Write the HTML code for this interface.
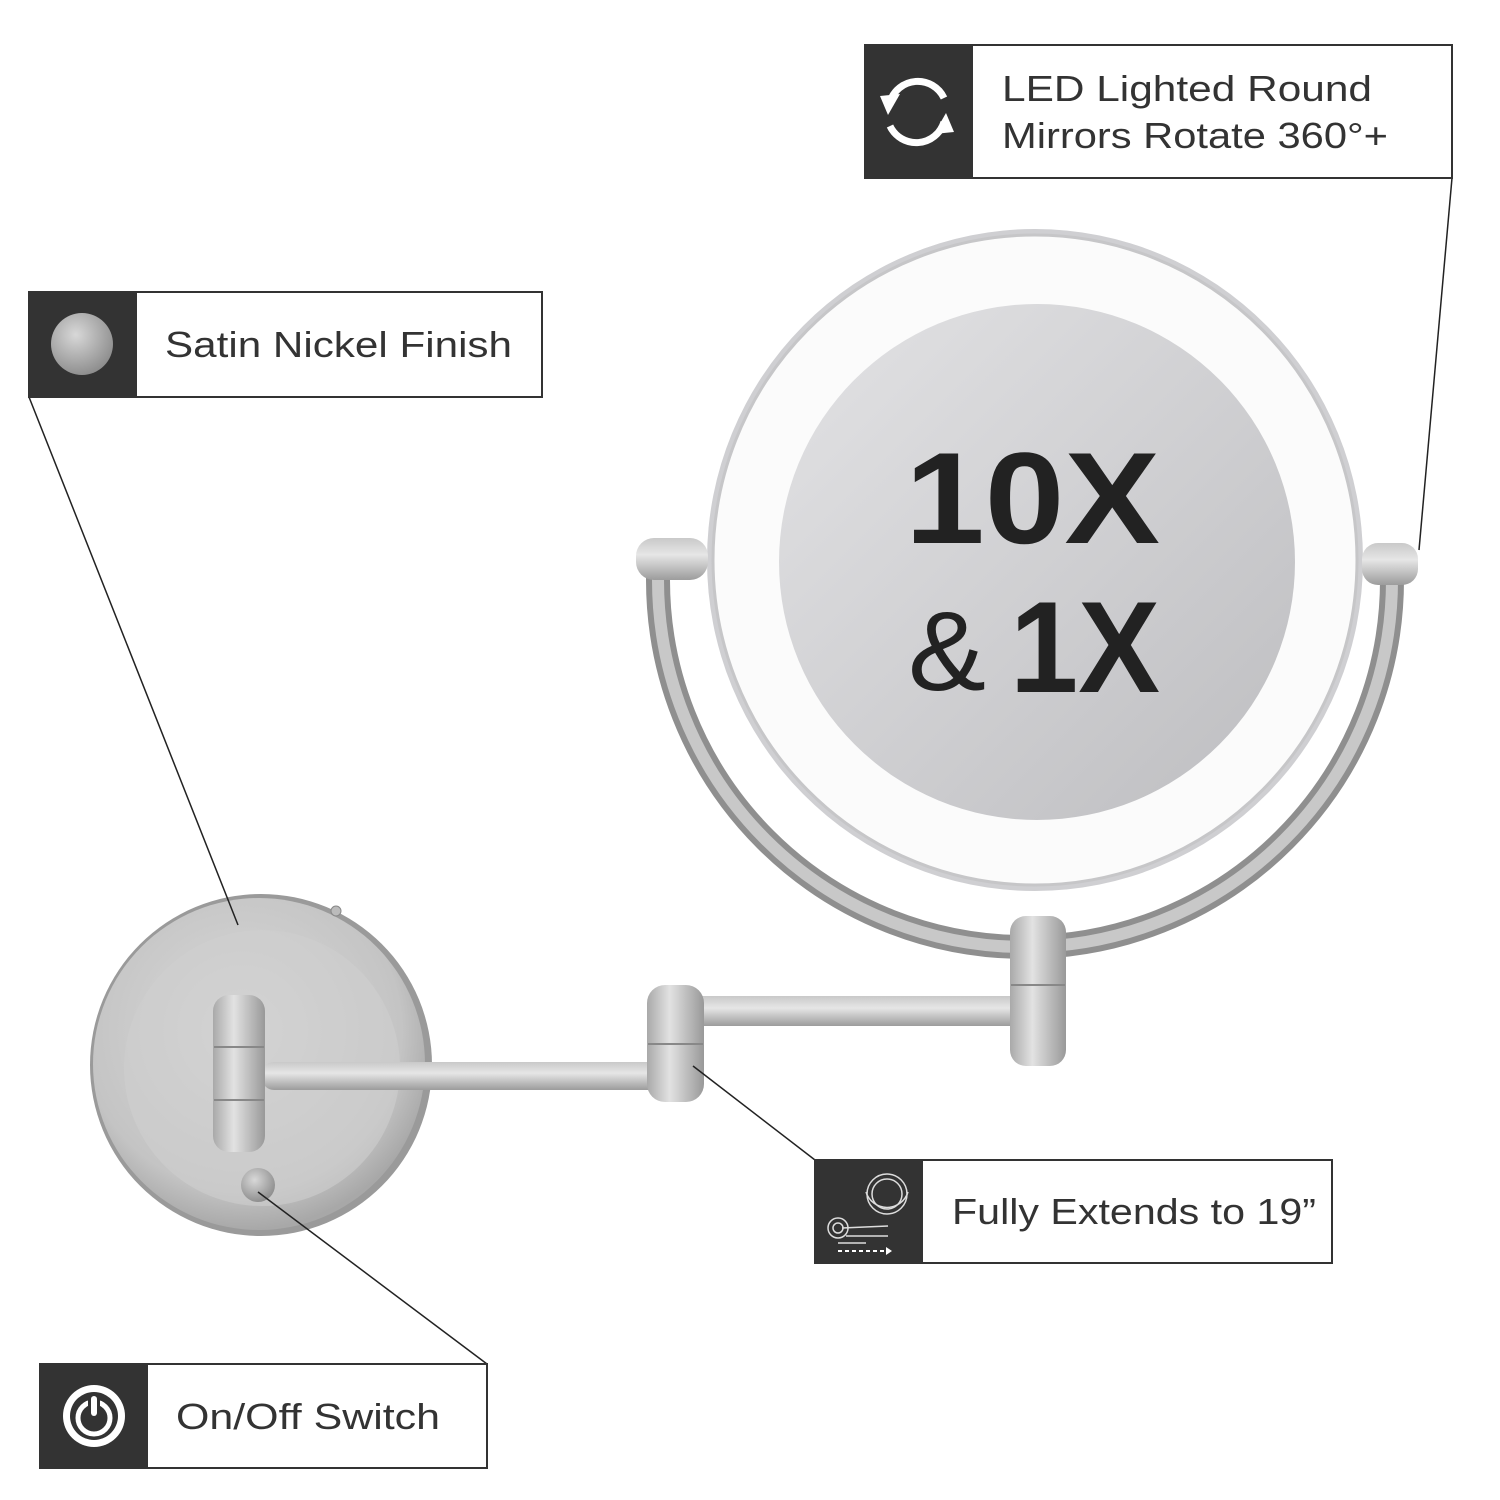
<!DOCTYPE html>
<html><head><meta charset="utf-8"><style>
html,body{margin:0;padding:0;background:#fff}
svg{display:block}
text{font-family:"Liberation Sans",sans-serif}
</style></head><body>
<svg width="1500" height="1500" viewBox="0 0 1500 1500" xmlns="http://www.w3.org/2000/svg">
<defs>
<linearGradient id="metal" x1="0" y1="0" x2="0" y2="1">
<stop offset="0" stop-color="#c9c9c9"/><stop offset="0.4" stop-color="#e6e6e6"/><stop offset="1" stop-color="#9c9c9c"/></linearGradient>
<linearGradient id="metalv" x1="0" y1="0" x2="1" y2="0">
<stop offset="0" stop-color="#a9a9a9"/><stop offset="0.4" stop-color="#e2e2e2"/><stop offset="1" stop-color="#999"/></linearGradient>
<radialGradient id="plate" cx="0.45" cy="0.4" r="0.6">
<stop offset="0" stop-color="#d9d9d9"/><stop offset="0.8" stop-color="#c4c4c4"/><stop offset="1" stop-color="#a8a8a8"/></radialGradient>
<linearGradient id="disc" x1="0" y1="0" x2="1" y2="1">
<stop offset="0" stop-color="#e3e3e5"/><stop offset="1" stop-color="#bdbdc0"/></linearGradient>
<radialGradient id="nick" cx="0.4" cy="0.35" r="0.7">
<stop offset="0" stop-color="#d8d8d8"/><stop offset="1" stop-color="#8a8a8a"/></radialGradient>
</defs>

<!-- yoke -->
<path d="M658 570 L658 580 A367 367 0 0 0 1392 580 L1392 570" fill="none" stroke="#8f8f8f" stroke-width="24"/>
<path d="M658 570 L658 580 A367 367 0 0 0 1392 580 L1392 570" fill="none" stroke="#c8c8c8" stroke-width="12"/>

<!-- mirror -->
<ellipse cx="1035" cy="560" rx="328" ry="331" fill="#cfcfd2"/>
<ellipse cx="1035" cy="560" rx="322" ry="325" fill="#fbfbfb" stroke="#c6c6c8" stroke-width="3"/>
<circle cx="1037" cy="562" r="258" fill="url(#disc)"/>
<text x="905" y="543" font-size="130" font-weight="bold" fill="#222" textLength="255" lengthAdjust="spacingAndGlyphs">10X</text>
<text x="908" y="690" font-size="112" fill="#222" textLength="78" lengthAdjust="spacingAndGlyphs">&amp;</text>
<text x="1010" y="692" font-size="130" font-weight="bold" fill="#222" textLength="150" lengthAdjust="spacingAndGlyphs">1X</text>

<!-- pivots -->
<rect x="636" y="538" width="72" height="42" rx="18" fill="url(#metal)"/>
<rect x="1362" y="543" width="56" height="42" rx="16" fill="url(#metal)"/>

<!-- wall plate -->
<circle cx="261" cy="1065" r="171" fill="#9a9a9a"/>
<circle cx="259" cy="1064" r="166" fill="url(#plate)"/>
<circle cx="262" cy="1068" r="138" fill="#cfcfcf" opacity="0.6"/>
<circle cx="336" cy="911" r="5" fill="#bbb" stroke="#888"/>

<!-- arms -->
<rect x="262" y="1062" width="400" height="28" rx="12" fill="url(#metal)"/>
<rect x="680" y="996" width="365" height="30" rx="12" fill="url(#metal)"/>
<rect x="647" y="985" width="57" height="117" rx="18" fill="url(#metalv)"/>
<line x1="648" y1="1044" x2="703" y2="1044" stroke="#888" stroke-width="2"/>
<rect x="1010" y="916" width="56" height="150" rx="16" fill="url(#metalv)"/>
<line x1="1011" y1="985" x2="1065" y2="985" stroke="#888" stroke-width="2"/>
<rect x="213" y="995" width="52" height="157" rx="16" fill="url(#metalv)"/>
<line x1="214" y1="1047" x2="264" y2="1047" stroke="#888" stroke-width="2"/>
<line x1="214" y1="1100" x2="264" y2="1100" stroke="#888" stroke-width="2"/>
<circle cx="258" cy="1185" r="17" fill="url(#nick)"/>

<!-- leader lines -->
<g stroke="#222" stroke-width="1.5" fill="none">
<line x1="29" y1="397" x2="238" y2="925"/>
<line x1="1452" y1="178" x2="1419" y2="550"/>
<line x1="815" y1="1160" x2="693" y2="1066"/>
<line x1="487" y1="1364" x2="258" y2="1192"/>
</g>

<!-- labels -->
<g stroke="#333" stroke-width="2" fill="#fff">
<rect x="865" y="45" width="587" height="133"/>
<rect x="29" y="292" width="513" height="105"/>
<rect x="815" y="1160" width="517" height="103"/>
<rect x="40" y="1364" width="447" height="104"/>
</g>
<g fill="#333">
<rect x="865" y="45" width="108" height="133"/>
<rect x="29" y="292" width="108" height="105"/>
<rect x="815" y="1160" width="108" height="103"/>
<rect x="40" y="1364" width="108" height="104"/>
</g>
<g font-size="36" fill="#333" lengthAdjust="spacingAndGlyphs">
<text x="1002" y="101" textLength="370" lengthAdjust="spacingAndGlyphs">LED Lighted Round</text>
<text x="1002" y="148" textLength="386" lengthAdjust="spacingAndGlyphs">Mirrors Rotate 360°+</text>
<text x="165" y="357" textLength="347" lengthAdjust="spacingAndGlyphs">Satin Nickel Finish</text>
<text x="952" y="1224" textLength="364" lengthAdjust="spacingAndGlyphs">Fully Extends to 19”</text>
<text x="176" y="1429" textLength="264" lengthAdjust="spacingAndGlyphs">On/Off Switch</text>
</g>

<!-- icons -->
<g fill="none" stroke="#fff" stroke-width="7">
<path d="M890 102 A29 29 0 0 1 944 98"/>
<path d="M944 122 A29 29 0 0 1 890 126"/>
</g>
<polygon points="880,96 900,94 888,115" fill="#fff"/>
<polygon points="954,132 934,134 946,113" fill="#fff"/>

<circle cx="82" cy="344" r="31" fill="url(#nick)"/>

<circle cx="94" cy="1416" r="31" fill="#fff"/>
<circle cx="94" cy="1416" r="24" fill="#333"/>
<circle cx="94" cy="1418" r="16" fill="none" stroke="#fff" stroke-width="5"/>
<rect x="88" y="1394" width="12" height="22" fill="#333"/>
<rect x="91" y="1396" width="6" height="20" rx="3" fill="#fff"/>

<g fill="none" stroke="#ddd" stroke-width="1.5">
<circle cx="887" cy="1194" r="20"/><circle cx="887" cy="1194" r="15"/>
<path d="M866 1192 A22 22 0 0 0 908 1192"/>
<circle cx="838" cy="1228" r="10"/><circle cx="838" cy="1228" r="5"/>
<line x1="842" y1="1228" x2="888" y2="1226"/>
<line x1="846" y1="1236" x2="888" y2="1236"/>
<line x1="838" y1="1243" x2="866" y2="1243"/>
</g>
<line x1="838" y1="1251" x2="886" y2="1251" stroke="#fff" stroke-width="2" stroke-dasharray="4 3"/>
<polygon points="886,1247 892,1251 886,1255" fill="#fff"/>
</svg>
</body></html>
